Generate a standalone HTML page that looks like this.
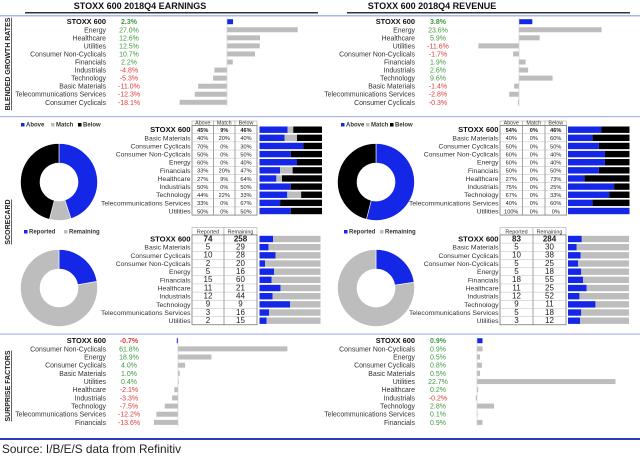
<!DOCTYPE html>
<html><head><meta charset="utf-8"><style>
html,body{margin:0;padding:0;background:#fff;width:640px;height:458px;overflow:hidden}
svg{display:block;font-family:"Liberation Sans",Arial,sans-serif}
</style></head><body>
<svg id="c" width="640" height="458" viewBox="0 0 640 458"></svg>
<script>
// ---- data ----
const growthSectorsE = ["STOXX 600","Energy","Healthcare","Utilities","Consumer Non-Cyclicals","Financials","Industrials","Technology","Basic Materials","Telecommunications Services","Consumer Cyclicals"];
const growthValuesE = [2.3,27.0,12.6,12.5,10.7,2.2,-4.8,-5.3,-11.0,-12.3,-18.1];
const growthSectorsR = ["STOXX 600","Energy","Healthcare","Utilities","Consumer Non-Cyclicals","Financials","Industrials","Technology","Basic Materials","Telecommunications Services","Consumer Cyclicals"];
const growthValuesR = [3.8,23.6,5.9,-11.6,-1.7,1.9,2.6,9.6,-1.4,-2.8,-0.3];

const scoreSectors = ["STOXX 600","Basic Materials","Consumer Cyclicals","Consumer Non-Cyclicals","Energy","Financials","Healthcare","Industrials","Technology","Telecommunications Services","Utilities"];
const aboveE = [45,40,70,50,60,33,27,50,44,33,50];
const matchE = [9,20,0,0,0,20,9,0,22,0,0];
const belowE = [46,40,30,50,40,47,64,50,33,67,50];
const aboveR = [54,40,50,60,60,50,27,75,67,40,100];
const matchR = [0,0,0,0,0,0,0,0,0,0,0];
const belowR = [46,60,50,40,40,50,73,25,33,60,0];

const reportedE = [74,5,10,2,5,15,11,12,9,3,2];
const remainingE = [258,29,28,20,16,60,21,44,9,16,15];
const reportedR = [83,5,10,5,5,18,11,12,9,5,3];
const remainingR = [284,30,38,25,18,55,25,52,11,18,12];

const surpriseSectorsE = ["STOXX 600","Consumer Non-Cyclicals","Energy","Consumer Cyclicals","Basic Materials","Utilities","Healthcare","Industrials","Technology","Telecommunications Services","Financials"];
const surpriseValuesE = [-0.7,61.8,18.9,4.0,1.0,0.4,-2.1,-3.3,-7.5,-12.2,-13.6];
const surpriseSectorsR = ["STOXX 600","Consumer Non-Cyclicals","Energy","Consumer Cyclicals","Basic Materials","Utilities","Healthcare","Industrials","Technology","Telecommunications Services","Financials"];
const surpriseValuesR = [0.9,0.9,0.5,0.8,0.5,22.7,0.2,-0.2,2.8,0.1,0.9];

// ---- drawing ----
const NS="http://www.w3.org/2000/svg";
const svg=document.getElementById('c');
const BLUE="#1426e6",GRAY="#bdbdbd",GREEN="#3f9a3f",RED="#e03a3a";
function mk(tag,attrs,parent){const e=document.createElementNS(NS,tag);for(const k in attrs)e.setAttribute(k,attrs[k]);(parent||svg).appendChild(e);return e;}
function txt(x,y,s,anchor,size,fill,weight,parent){const t=mk('text',{x:x,y:y,'text-anchor':anchor,'font-size':size,fill:fill,'font-weight':weight||'normal'},parent);t.textContent=s;return t;}

let e;
e=mk('rect',{x:0,y:15,width:640,height:1.5,fill:"#aab4f0"});

e=mk('rect',{x:25,y:12,width:293,height:1.5,fill:"#333"});

e=mk('rect',{x:347,y:12,width:283,height:1.5,fill:"#333"});

e=txt(140,9,"STOXX 600 2018Q4 EARNINGS","middle",9,"#111","bold");

e=txt(432,9,"STOXX 600 2018Q4 REVENUE","middle",9,"#111","bold");

e=mk('rect',{x:0,y:116,width:640,height:1.2,fill:"#aab4f0"});

e=mk('rect',{x:0,y:333.5,width:640,height:1.2,fill:"#aab4f0"});

e=mk('rect',{x:0,y:438,width:640,height:2,fill:"#2a3fc0"});

e=txt(2,453,"Source: I/B/E/S data from Refinitiv","start",11.8,"#222");


function vlabel(cx,cy,s,name){const t=txt(0,0,s,"middle",7,"#222","bold");t.setAttribute('transform','translate('+cx+','+cy+') rotate(-90)');t.setAttribute('text-decoration','underline');
}
vlabel(10,64,"BLENDED GROWTH RATES",'growth-section-label');
vlabel(10,222,"SCORECARD",'scorecard-section-label');
vlabel(10,386,"SURPRISE FACTORS",'surprise-section-label');

function barPanel(g,sectors,vals,labX,valX,zeroX,scale,y0,dy,prefix){
  for(let i=0;i<sectors.length;i++){
    const y=y0+i*dy;const first=i===0;
    const l=txt(labX,y+2.5,sectors[i],"end",first?7.4:6.9,first?"#111":"#333",first?"bold":"normal",g);
    
    const v=vals[i];
    const vt=txt(valX,y+2.5,v.toFixed(1)+"%","middle",7,v>=0?GREEN:RED,first?"bold":"normal",g);
    
    const w=Math.abs(v)*scale;
    const b=mk('rect',{x:v>=0?zeroX:zeroX-w,y:y-2.5,width:Math.max(w,0.6),height:5,fill:first?BLUE:GRAY},g);
    
  }
  const ax=mk('line',{x1:zeroX,y1:y0-4,x2:zeroX,y2:y0+(sectors.length-1)*dy+4,stroke:"#ccc",'stroke-width':0.6},g);
  
}
barPanel(svg,growthSectorsE,growthValuesE,106,129,227,2.62,21.7,8.06,'earnings-growth');
barPanel(svg,growthSectorsR,growthValuesR,415,438,519,3.5,21.7,8.06,'revenue-growth');
barPanel(svg,surpriseSectorsE,surpriseValuesE,106,129,178,1.77,340.7,8.17,'earnings-surprise');
barPanel(svg,surpriseSectorsR,surpriseValuesR,415,438,477,6.1,340.7,8.17,'revenue-surprise');

function donut(cx,cy,ro,ri,vals,colors,prefix){
  const tot=vals.reduce((a,b)=>a+b,0);let a0=-Math.PI/2;
  for(let i=0;i<vals.length;i++){
    if(vals[i]<=0)continue;
    const frac=vals[i]/tot;const a1=a0+frac*2*Math.PI;
    let d;
    if(frac>=0.9999){d=`M${cx},${cy-ro}A${ro},${ro} 0 1 1 ${cx-0.01},${cy-ro}Z M${cx},${cy-ri}A${ri},${ri} 0 1 0 ${cx-0.01},${cy-ri}Z`;}
    else{const lg=frac>0.5?1:0;
    d=`M${cx+ro*Math.cos(a0)},${cy+ro*Math.sin(a0)}A${ro},${ro} 0 ${lg} 1 ${cx+ro*Math.cos(a1)},${cy+ro*Math.sin(a1)}L${cx+ri*Math.cos(a1)},${cy+ri*Math.sin(a1)}A${ri},${ri} 0 ${lg} 0 ${cx+ri*Math.cos(a0)},${cy+ri*Math.sin(a0)}Z`;}
    const p=mk('path',{d:d,fill:colors[i],stroke:'#fff','stroke-width':0.6,'fill-rule':'evenodd'});
    
    a0=a1;
  }
}
function legend(x,y,items,colors,prefix,gap){
  let cx=x;
  for(let i=0;i<items.length;i++){
    const r=mk('rect',{x:cx,y:y-3,width:3.5,height:3.5,fill:colors[i]});
    
    const t=txt(cx+5,y+0.5,items[i],"start",6,"#333","bold");
    
    cx+=gap[i];
  }
}
legend(21,126,["Above","Match","Below"],[BLUE,GRAY,"#000"],'earnings-scorecard',[30,27,30]);
legend(341,126,["Above","Match","Below"],[BLUE,GRAY,"#000"],'revenue-scorecard',[25,24,25]);
legend(24,233,["Reported","Remaining"],[BLUE,GRAY],'earnings-reported',[40,40]);
legend(344,233,["Reported","Remaining"],[BLUE,GRAY],'revenue-reported',[36,40]);
donut(59,182,38.5,19,[aboveE[0],matchE[0],belowE[0]],[BLUE,GRAY,"#000"],'earnings-scorecard-donut');
donut(376,182,38.5,19,[aboveR[0],matchR[0],belowR[0]],[BLUE,GRAY,"#000"],'revenue-scorecard-donut');
donut(59,288,38.5,19,[reportedE[0],remainingE[0]],[BLUE,GRAY],'earnings-reported-donut');
donut(376,288,38.5,19,[reportedR[0],remainingR[0]],[BLUE,GRAY],'revenue-reported-donut');

function table(sectors,cols,headers,colX,hdrY,y0,dy,barX,barW,colors,fmt,numSize,prefix){
  const n=sectors.length;
  for(let j=0;j<headers.length;j++){
    const r=mk('rect',{x:colX[j],y:hdrY,width:colX[j+1]-colX[j],height:y0-dy/2-hdrY,fill:'#fff',stroke:'#999','stroke-width':0.5});
    
    const t=txt((colX[j]+colX[j+1])/2,y0-dy/2-1.3,headers[j],"middle",5.4,"#333","normal");
    
  }
  const fr=mk('rect',{x:colX[0],y:y0-dy/2,width:colX[colX.length-1]-colX[0],height:n*dy,fill:'#fff',stroke:'#666','stroke-width':0.7});
  
  for(let j=1;j<headers.length;j++){
    const l=mk('line',{x1:colX[j],y1:y0-dy/2,x2:colX[j],y2:y0-dy/2+n*dy,stroke:'#666','stroke-width':0.6});
    
  }
  for(let i=0;i<n;i++){
    const y=y0+i*dy;const first=i===0;
    if(i>0){const l=mk('line',{x1:colX[0],y1:y-dy/2,x2:colX[colX.length-1],y2:y-dy/2,stroke:'#aaa','stroke-width':0.4});
      }
    const lt=txt(colX[0]-1.5,y+2.5,sectors[i],"end",first?7.6:6.8,first?"#111":"#333",first?"bold":"normal");
    
    for(let j=0;j<cols.length;j++){
      const t=txt((colX[j]+colX[j+1])/2,y+2.3,fmt(cols[j][i]),"middle",numSize,"#222",first?"bold":"normal");
      
    }
    const tot=cols.reduce((a,c)=>a+c[i],0);let bx=barX;
    for(let j=0;j<cols.length;j++){
      const w=cols[j][i]/tot*barW;if(w<=0)continue;
      const b=mk('rect',{x:bx,y:y-3.2,width:w,height:6.4,fill:colors[j]});
      
      bx+=w;
    }
  }
}
const pct=v=>v+"%";const num=v=>String(v);
table(scoreSectors,[aboveE,matchE,belowE],["Above","Match","Below"],[192,213.5,235,257],121,129.7,8.13,259.5,62.5,[BLUE,GRAY,"#000"],pct,5.6,'earnings-scorecard');
table(scoreSectors,[aboveR,matchR,belowR],["Above","Match","Below"],[500,522.5,545,566.5],121,129.7,8.13,568,61.5,[BLUE,GRAY,"#000"],pct,5.6,'revenue-scorecard');
table(scoreSectors,[reportedE,remainingE],["Reported","Remaining"],[192,224,257],227.5,239,8.17,259.5,61,[BLUE,GRAY],num,8,'earnings-reported');
table(scoreSectors,[reportedR,remainingR],["Reported","Remaining"],[500,533,566],227.5,239,8.17,568,61,[BLUE,GRAY],num,8,'revenue-reported');
</script>
</body></html>
